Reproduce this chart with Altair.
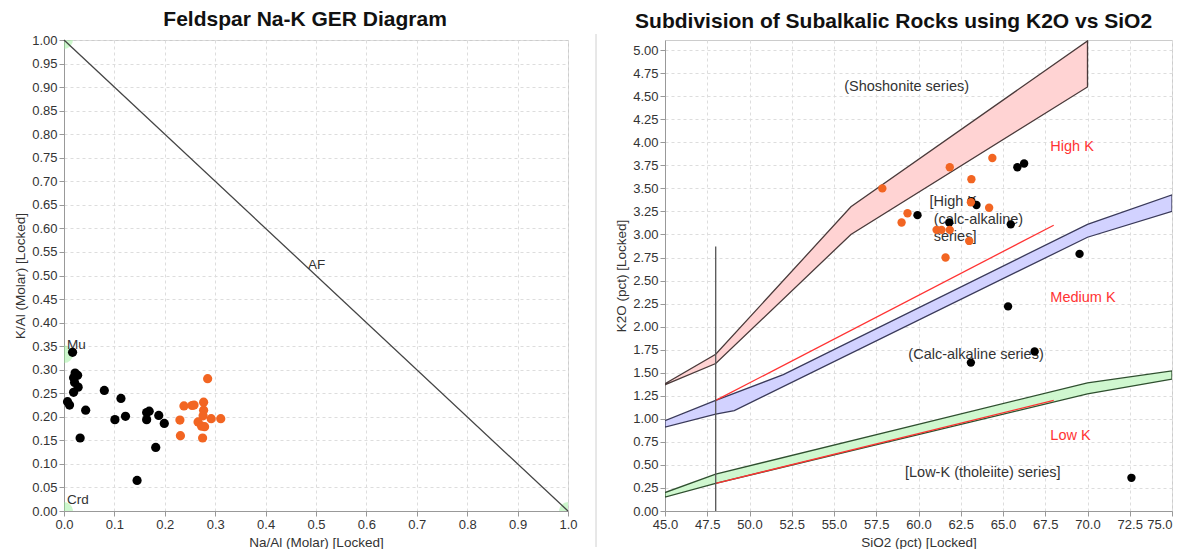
import altair as alt
import pandas as pd

FONT = "Liberation Sans"
ORANGE = "#F26522"

# ---------------- Left chart: Feldspar Na-K GER diagram ----------------
fs_black_na = [0.017, 0.022, 0.027, 0.019, 0.021, 0.028, 0.019, 0.007, 0.011, 0.043, 0.032,
               0.080, 0.113, 0.101, 0.122, 0.164, 0.169, 0.164, 0.188, 0.199, 0.182, 0.145]
fs_black_k = [0.337, 0.293, 0.288, 0.283, 0.273, 0.263, 0.252, 0.232, 0.225, 0.214, 0.155,
              0.256, 0.239, 0.194, 0.201, 0.209, 0.212, 0.194, 0.203, 0.186, 0.135, 0.065]
fs_orange_na = [0.285, 0.238, 0.254, 0.258, 0.277, 0.277, 0.276, 0.230, 0.266, 0.273, 0.279,
                0.292, 0.311, 0.231, 0.275]
fs_orange_k = [0.281, 0.223, 0.224, 0.225, 0.231, 0.214, 0.202, 0.193, 0.189, 0.180, 0.179,
               0.196, 0.196, 0.160, 0.155]

af_line_x = [0.0, 1.0]
af_line_y = [1.0, 0.0]
end_member_x = [0.0, 0.0, 0.0, 1.0]
end_member_y = [1.0, 0.333, 0.0, 0.0]
fs_label_text = ["AF", "Mu", "Crd"]
fs_label_x = [0.484, 0.006, 0.006]
fs_label_y = [0.522, 0.352, 0.023]

fs_x_ticks = [0.0, 0.1, 0.2, 0.3, 0.4, 0.5, 0.6, 0.7, 0.8, 0.9, 1.0]
fs_y_ticks = [0.0, 0.05, 0.1, 0.15, 0.2, 0.25, 0.3, 0.35, 0.4, 0.45, 0.5, 0.55, 0.6, 0.65,
              0.7, 0.75, 0.8, 0.85, 0.9, 0.95, 1.0]

# ---------------- Right chart: K2O vs SiO2 ----------------
sh_poly_x = [45, 48, 56, 70, 70, 56, 48, 45, 45]
sh_poly_y = [1.38, 1.70, 3.30, 5.10, 4.60, 3.00, 1.60, 1.37, 1.38]
hk_poly_x = [45, 48, 52, 70, 75, 75, 70, 49.1, 48, 45, 45]
hk_poly_y = [0.98, 1.20, 1.48, 3.11, 3.43, 3.25, 2.97, 1.09, 1.05, 0.91, 0.98]
lk_poly_x = [45, 48, 70, 75, 75, 70, 48, 45, 45]
lk_poly_y = [0.20, 0.40, 1.39, 1.52, 1.43, 1.27, 0.30, 0.15, 0.20]

red_line_id = ["a", "a", "b", "b"]
red_line_x = [48, 68, 48, 68]
red_line_y = [1.2, 3.1, 0.3, 1.2]

vline_x = [48]
vline_y = [0.0]
vline_y2 = [2.87]

rk_black_si = [59.94, 63.13, 63.43, 61.82, 65.46, 65.85, 66.25, 65.30, 66.87, 63.10, 72.60, 69.53]
rk_black_k = [3.21, 3.36, 3.32, 3.13, 3.11, 3.73, 3.77, 2.22, 1.73, 1.61, 0.36, 2.79]
rk_orange_si = [57.86, 61.85, 64.37, 63.13, 59.35, 59.00, 63.10, 64.18, 61.07, 61.36, 61.85, 63.00, 61.60]
rk_orange_k = [3.50, 3.73, 3.83, 3.60, 3.23, 3.13, 3.35, 3.29, 3.05, 3.05, 3.05, 2.93, 2.75]

rk_label_text = ["(Shoshonite series)", "High K", "[High K", "(calc-alkaline)", "series]",
                 "Medium K", "(Calc-alkaline series)", "Low K", "[Low-K (tholeiite) series]"]
rk_label_x = [55.6, 67.8, 60.65, 60.9, 60.9, 67.8, 59.4, 67.8, 59.2]
rk_label_y = [4.60, 3.95, 3.35, 3.16, 2.97, 2.31, 1.69, 0.81, 0.41]
rk_label_color = ["#333333", "#FF3333", "#333333", "#333333", "#333333",
                  "#FF3333", "#333333", "#FF3333", "#333333"]

rk_x_ticks = [45.0, 47.5, 50.0, 52.5, 55.0, 57.5, 60.0, 62.5, 65.0, 67.5, 70.0, 72.5, 75.0]
rk_y_ticks = [0.0, 0.25, 0.5, 0.75, 1.0, 1.25, 1.5, 1.75, 2.0, 2.25, 2.5, 2.75, 3.0, 3.25,
              3.5, 3.75, 4.0, 4.25, 4.5, 4.75, 5.0]

W_L, W_R, H = 504, 507, 471

# ---------- left chart ----------
fx = alt.X("x:Q", title="Na/Al (Molar) [Locked]",
           scale=alt.Scale(domain=[0, 1], nice=False),
           axis=alt.Axis(values=fs_x_ticks, format=".1f"))
fy = alt.Y("y:Q", title="K/Al (Molar) [Locked]",
           scale=alt.Scale(domain=[0, 1], nice=False),
           axis=alt.Axis(values=fs_y_ticks, format=".2f"))

af_df = pd.DataFrame({"x": af_line_x, "y": af_line_y})
em_df = pd.DataFrame({"x": end_member_x, "y": end_member_y})
fl_df = pd.DataFrame({"x": fs_label_x, "y": fs_label_y, "t": fs_label_text})
fb_df = pd.DataFrame({"x": fs_black_na, "y": fs_black_k})
fo_df = pd.DataFrame({"x": fs_orange_na, "y": fs_orange_k})
sep_df = pd.DataFrame({"d": [0]})

left = alt.layer(
    alt.Chart(em_df).mark_circle(size=320, color="#90EE90", opacity=0.45, clip=True).encode(x=fx, y=fy),
    alt.Chart(af_df).mark_line(color="#444444", strokeWidth=1.3).encode(x=fx, y=fy),
    alt.Chart(fl_df).mark_text(align="left", baseline="middle", font=FONT, fontSize=13.5,
                               color="#333333").encode(x=fx, y=fy, text="t:N"),
    alt.Chart(fb_df).mark_circle(size=85, color="black", opacity=1).encode(x=fx, y=fy),
    alt.Chart(fo_df).mark_circle(size=85, color=ORANGE, opacity=1).encode(x=fx, y=fy),
    alt.Chart(sep_df).mark_rule(color="#d0d0d0", strokeWidth=1).encode(
        x=alt.value(W_L + 28), y=alt.value(-6), y2=alt.value(H + 36)),
).properties(width=W_L, height=H,
             title=alt.TitleParams("Feldspar Na-K GER Diagram", frame="bounds", anchor="middle",
                                   offset=4))

# ---------- right chart ----------
rx = alt.X("x:Q", title="SiO2 (pct) [Locked]",
           scale=alt.Scale(domain=[45, 75], nice=False),
           axis=alt.Axis(values=rk_x_ticks, format=".1f",
                         labelAlign=alt.expr("datum.value >= 75 ? 'right' : 'center'")))
ry = alt.Y("y:Q", title="K2O (pct) [Locked]",
           scale=alt.Scale(domain=[0, 5.11], nice=False),
           axis=alt.Axis(values=rk_y_ticks, format=".2f"))


def poly(xs, ys, fill, stroke):
    df = pd.DataFrame({"x": xs, "y": ys, "i": list(range(len(xs)))})
    return alt.Chart(df).mark_line(fill=fill, stroke=stroke, strokeWidth=1.3, clip=True).encode(
        x=rx, y=ry, order="i:Q")


rl_df = pd.DataFrame({"x": red_line_x, "y": red_line_y, "g": red_line_id})
vl_df = pd.DataFrame({"x": vline_x, "y": vline_y, "y2": vline_y2})
rt_df = pd.DataFrame({"x": rk_label_x, "y": rk_label_y, "t": rk_label_text, "c": rk_label_color})
rb_df = pd.DataFrame({"x": rk_black_si, "y": rk_black_k})
ro_df = pd.DataFrame({"x": rk_orange_si, "y": rk_orange_k})

right = alt.layer(
    poly(sh_poly_x, sh_poly_y, "#FFD3D3", "#4a3a3a"),
    poly(hk_poly_x, hk_poly_y, "#D2D2FF", "#3a3a5a"),
    poly(lk_poly_x, lk_poly_y, "#CFF7CF", "#2f4f2f"),
    alt.Chart(rl_df).mark_line(color="#FF3333", strokeWidth=1.3).encode(x=rx, y=ry, detail="g:N"),
    alt.Chart(vl_df).mark_rule(color="#555555", strokeWidth=1.3).encode(x=rx, y=ry, y2="y2:Q"),
    alt.Chart(rt_df).mark_text(align="left", baseline="middle", font=FONT, fontSize=14.5).encode(
        x=rx, y=ry, text="t:N", color=alt.Color("c:N", scale=None)),
    alt.Chart(rb_df).mark_circle(size=70, color="black", opacity=1).encode(x=rx, y=ry),
    alt.Chart(ro_df).mark_circle(size=70, color=ORANGE, opacity=1).encode(x=rx, y=ry),
).properties(width=W_R, height=H,
             title=alt.TitleParams("Subdivision of Subalkalic Rocks using K2O vs SiO2",
                                   frame="bounds", anchor="middle", offset=8))

chart = alt.hconcat(left, right, spacing=17).properties(
    padding={"left": 5, "top": 0, "right": 0, "bottom": 0}
).configure_axis(
    labelFont=FONT, labelFontSize=13, labelColor="#333333", labelFlush=False,
    titleFont=FONT, titleFontSize=13.5, titleFontWeight="normal", titleColor="#333333",
    gridColor="#dddddd", gridDash=[3, 3], domainColor="#999999", tickColor="#999999",
).configure_view(stroke="#cccccc").configure_title(
    font=FONT, fontSize=21, fontWeight="bold", color="#111111"
)

chart.save("out.html", embed_options={"renderer": "svg", "actions": False})
